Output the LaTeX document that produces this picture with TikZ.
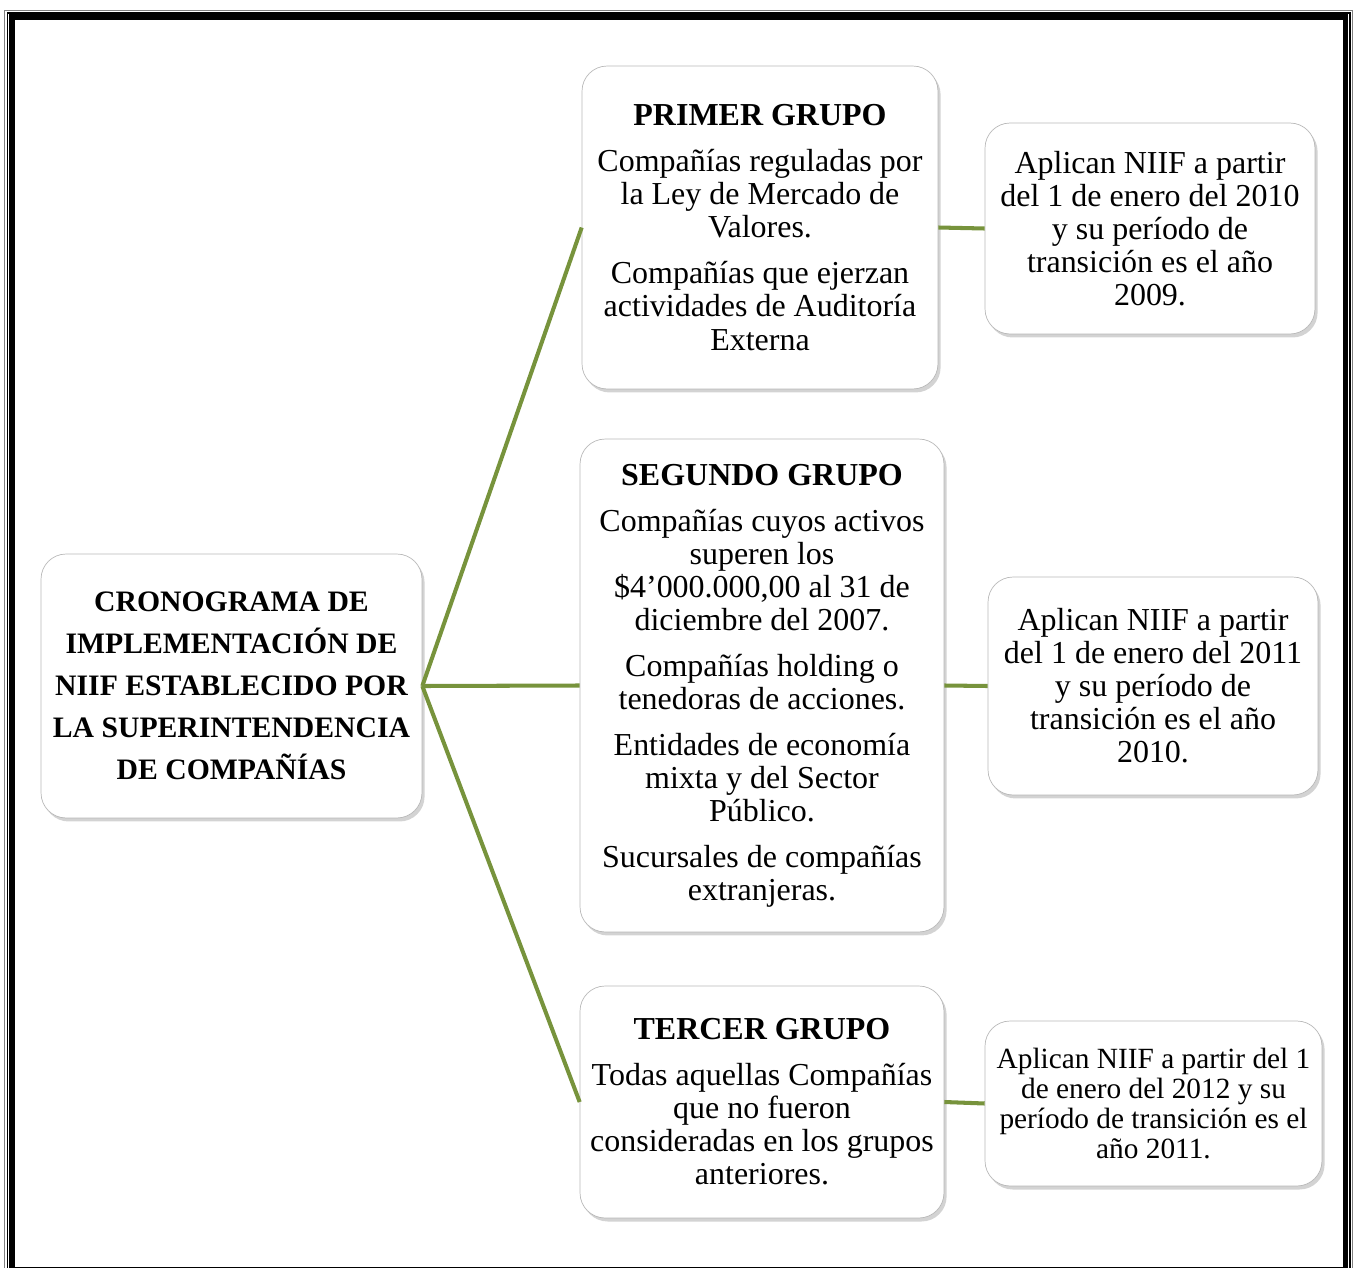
\documentclass[tikz,border=0pt]{standalone}
\usepackage{fontspec}
\setmainfont{Liberation Serif}
\usepackage{xcolor}
\usetikzlibrary{shadows}

\definecolor{verde}{RGB}{119,147,60}

\begin{document}
\begin{tikzpicture}[x=0.02cm,y=-0.02cm]
		\tikzstyle{every node}=[font=\fontsize{18.2}{18.8}\selectfont]
		\tikzstyle{caja}=[draw=gray!55, fill=white, rounded corners=0.5cm, align=center, inner sep=0pt, drop shadow={shadow xshift=1.5pt, shadow yshift=-2pt, opacity=0.35}]
		\tikzstyle{rama}=[draw=verde, line width=2.3pt]

		\useasboundingbox (0,0) rectangle (1357,1268);

		% marco de pagina
		\draw [gray, line width=0.7pt] (4.5,10.5) rectangle (1352.5,1300);
		\draw [line width=0.7pt] (7.5,13) rectangle (1350,1300);
		\draw [line width=3.4pt] (12,17) rectangle (1345.5,1269.5);

		% cajas
		\node [caja, minimum width=7.62cm, minimum height=5.28cm, font=\fontsize{16.9}{23.9}\selectfont\bfseries] (centro) at (231.5,686)
			{CRONOGRAMA DE\\ IMPLEMENTACIÓN DE\\ NIIF ESTABLECIDO POR\\ LA SUPERINTENDENCIA\\ DE COMPAÑÍAS};
		\node [caja, minimum width=7.12cm, minimum height=6.46cm] (primer) at (760,227.5)
			{\textbf{PRIMER GRUPO}\\[7.4pt] Compañías reguladas por\\ la Ley de Mercado de\\ Valores.\\[7.4pt] Compañías que ejerzan\\ actividades de Auditoría\\ Externa};
		\node [caja, minimum width=7.28cm, minimum height=9.86cm] (segundo) at (762,685.5)
			{\textbf{SEGUNDO GRUPO}\\[7.4pt] Compañías cuyos activos\\ superen los\\ \$4’000.000,00 al 31 de\\ diciembre del 2007.\\[7.4pt] Compañías holding o\\ tenedoras de acciones.\\[7.4pt] Entidades de economía\\ mixta y del Sector\\ Público.\\[7.4pt] Sucursales de compañías\\ extranjeras.};
		\node [caja, minimum width=7.28cm, minimum height=4.64cm] (tercer) at (762,1102)
			{\textbf{TERCER GRUPO}\\[7.4pt] Todas aquellas Compañías\\ que no fueron\\ consideradas en los grupos\\ anteriores.};

		\node [caja, minimum width=6.6cm, minimum height=4.22cm] (fecha1) at (1150,228.5)
			{Aplican NIIF a partir\\ del 1 de enero del 2010\\ y su período de\\ transición es el año\\ 2009.};
		\node [caja, minimum width=6.6cm, minimum height=4.36cm] (fecha2) at (1153,686)
			{Aplican NIIF a partir\\ del 1 de enero del 2011\\ y su período de\\ transición es el año\\ 2010.};
		\node [caja, minimum width=6.74cm, minimum height=3.3cm, font=\fontsize{16.7}{17.1}\selectfont] (fecha3) at (1153.5,1103.5)
			{Aplican NIIF a partir del 1\\ de enero del 2012 y su\\ período de transición es el\\ año 2011.};

		% ramas
		\draw [rama] (centro.east) -- (primer.west);
		\draw [rama] (centro.east) -- (segundo.west);
		\draw [rama] (centro.east) -- (tercer.west);
		\draw [rama] (primer.east) -- (fecha1.west);
		\draw [rama] (segundo.east) -- (fecha2.west);
		\draw [rama] (tercer.east) -- (fecha3.west);

	\end{tikzpicture}
\end{document}
